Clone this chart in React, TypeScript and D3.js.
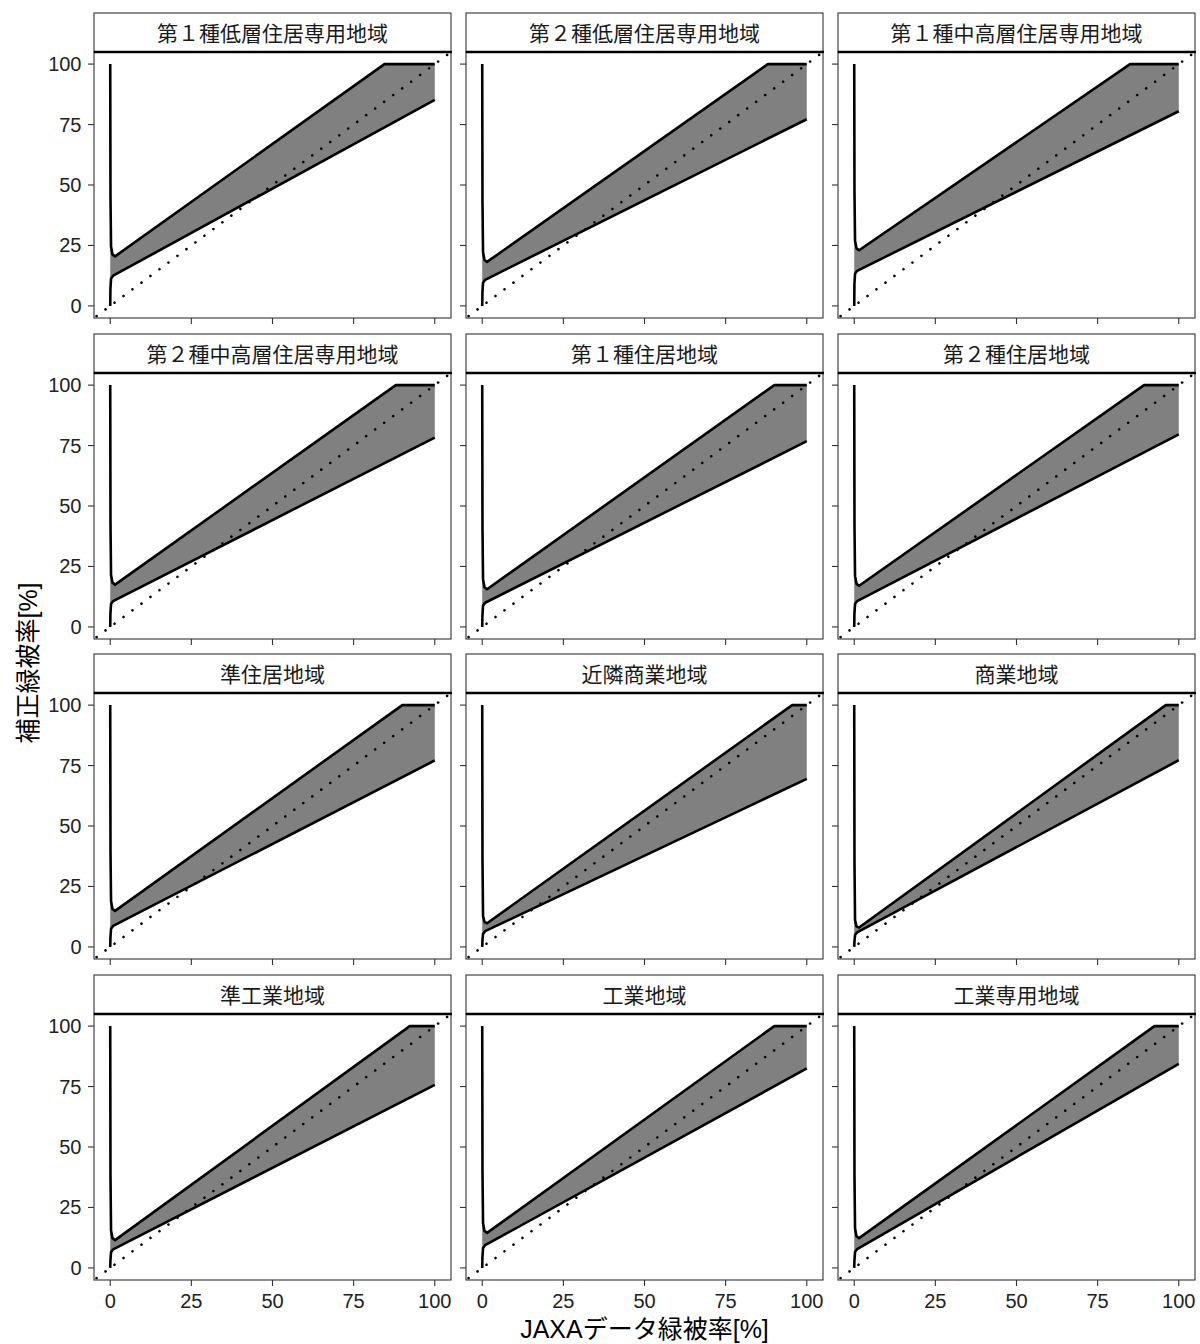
import React from 'react';
import * as d3 from 'd3';

// facet labels, in panel order (row by row)
const zoneNames = [
  '第１種低層住居専用地域',
  '第２種低層住居専用地域',
  '第１種中高層住居専用地域',
  '第２種中高層住居専用地域',
  '第１種住居地域',
  '第２種住居地域',
  '準住居地域',
  '近隣商業地域',
  '商業地域',
  '準工業地域',
  '工業地域',
  '工業専用地域',
];

// upper bound of the band, [JAXA %, corrected %]
const upperPts: number[][][] = [
  [[0, 100], [0.08, 45], [0.25, 24.5], [0.7, 21.3], [1.5, 20.5], [84.5, 100], [100, 100]],
  [[0, 100], [0.08, 43], [0.25, 22.2], [0.7, 19], [1.5, 18.2], [88, 100], [100, 100]],
  [[0, 100], [0.08, 47], [0.25, 27], [0.7, 23.8], [1.5, 23], [85, 100], [100, 100]],
  [[0, 100], [0.08, 43], [0.25, 21.5], [0.7, 18.3], [1.5, 17.5], [88, 100], [100, 100]],
  [[0, 100], [0.08, 41], [0.25, 19.6], [0.7, 16.4], [1.5, 15.6], [90, 100], [100, 100]],
  [[0, 100], [0.08, 42], [0.25, 21], [0.7, 17.8], [1.5, 17], [89.3, 100], [100, 100]],
  [[0, 100], [0.08, 40], [0.25, 18.9], [0.7, 15.7], [1.5, 14.9], [90, 100], [100, 100]],
  [[0, 100], [0.08, 36], [0.25, 12.8], [0.7, 10.3], [1.5, 9.8], [95.5, 100], [100, 100]],
  [[0, 100], [0.08, 35], [0.25, 11], [0.7, 8.5], [1.5, 8], [96, 100], [100, 100]],
  [[0, 100], [0.08, 38], [0.25, 15.5], [0.7, 12.3], [1.5, 11.5], [92.3, 100], [100, 100]],
  [[0, 100], [0.08, 40], [0.25, 18.5], [0.7, 15.3], [1.5, 14.5], [90, 100], [100, 100]],
  [[0, 100], [0.08, 38], [0.25, 16.3], [0.7, 13.1], [1.5, 12.3], [92.5, 100], [100, 100]],
];

// lower bound of the band
const lowerPts: number[][][] = [
  [[0, 0], [0.06, 7], [0.25, 11.3], [0.9, 12.5], [100, 85.2]],
  [[0, 0], [0.06, 5.5], [0.25, 9.6], [0.9, 10.8], [100, 77.2]],
  [[0, 0], [0.06, 9], [0.25, 13.3], [0.9, 14.5], [100, 80.5]],
  [[0, 0], [0.06, 5.4], [0.25, 9.5], [0.9, 10.7], [100, 78.3]],
  [[0, 0], [0.06, 4.8], [0.25, 8.8], [0.9, 10], [100, 76.8]],
  [[0, 0], [0.06, 5.4], [0.25, 9.5], [0.9, 10.7], [100, 79.6]],
  [[0, 0], [0.06, 3.6], [0.25, 7.5], [0.9, 8.7], [100, 77.1]],
  [[0, 0], [0.06, 2.4], [0.25, 5.4], [0.9, 6.5], [100, 69.5]],
  [[0, 0], [0.06, 2], [0.25, 4.9], [0.9, 6], [100, 77.2]],
  [[0, 0], [0.06, 2.9], [0.25, 6.5], [0.9, 7.7], [100, 75.7]],
  [[0, 0], [0.06, 4.3], [0.25, 8.2], [0.9, 9.4], [100, 82.5]],
  [[0, 0], [0.06, 2.9], [0.25, 6.6], [0.9, 7.8], [100, 84.4]],
];

const ticks = [0, 25, 50, 75, 100];
const identityLine = [[-10, -10], [110, 110]];

const xTitle = 'JAXAデータ緑被率[%]';
const yTitle = '補正緑被率[%]';

const W = 1200;
const H = 1344;
const colX = [94, 466, 838];
const rowTop = [52, 373, 693, 1014];
const panelW = 357;
const panelH = 266;
const stripH = 39;
const font = "'Liberation Sans', Arial, 'Noto Sans CJK JP', sans-serif";

const x = d3.scaleLinear().domain([-5, 105]).range([0, panelW]);
const y = d3.scaleLinear().domain([-5, 105]).range([panelH, 0]);

const line = d3.line<number[]>().x(d => x(d[0])).y(d => y(d[1]));

const App = () => {
  return (
    <svg width={W} height={H} style={{ position: 'absolute', left: 0, top: 0, background: '#fff' }} fontFamily={font}>
      <rect width={W} height={H} fill="#fff" />
      <defs>
        <clipPath id="panelClip">
          <rect x={0} y={0} width={panelW} height={panelH} />
        </clipPath>
      </defs>
      {zoneNames.map((name, i) => {
        const r = Math.floor(i / 3);
        const c = i % 3;
        const up = upperPts[i];
        const lo = lowerPts[i];
        const band = line([...up, ...lo.slice().reverse()]) + 'Z';
        return (
          <g key={name} transform={`translate(${colX[c]},${rowTop[r]})`}>
            {/* strip */}
            <rect x={0} y={-stripH} width={panelW} height={stripH} fill="#fff" stroke="#333" strokeWidth={1.1} />
            <text x={panelW / 2} y={-stripH / 2 + 0.5} textAnchor="middle" dominantBaseline="central"
              fontSize={21} fill="#1a1a1a">{name}</text>
            <rect x={0} y={0} width={panelW} height={panelH} fill="#fff" />
            <g clipPath="url(#panelClip)">
              <path d={band} fill="#808080" stroke="none" />
              <path d={line(up) || ''} fill="none" stroke="#000" strokeWidth={2.6} strokeLinejoin="round" />
              <path d={line(lo) || ''} fill="none" stroke="#000" strokeWidth={2.6} strokeLinejoin="round" />
              <path d={line(identityLine) || ''} fill="none" stroke="#000" strokeWidth={2.6}
                strokeLinecap="round" strokeDasharray="0.01 11.2" strokeDashoffset={-1} />
            </g>
            <rect x={0} y={0} width={panelW} height={panelH} fill="none" stroke="#333" strokeWidth={1.1} />
            <line x1={0} x2={panelW + 1} y1={0} y2={0} stroke="#000" strokeWidth={2.6} />
            {/* y axis ticks */}
            {ticks.map(t => (
              <line key={'yt' + t} x1={-6} x2={0} y1={y(t)} y2={y(t)} stroke="#333" strokeWidth={1.1} />
            ))}
            {c === 0 && ticks.map(t => (
              <text key={'yl' + t} x={-12.5} y={y(t)} textAnchor="end" dominantBaseline="central"
                fontSize={20} fill="#222">{t}</text>
            ))}
            {/* x axis ticks */}
            {ticks.map(t => (
              <line key={'xt' + t} x1={x(t)} x2={x(t)} y1={panelH} y2={panelH + 6} stroke="#333" strokeWidth={1.1} />
            ))}
            {r === 3 && ticks.map(t => (
              <text key={'xl' + t} x={x(t)} y={panelH + 28} textAnchor="middle"
                fontSize={20} fill="#222">{t}</text>
            ))}
          </g>
        );
      })}
      <text x={644.5} y={1338} textAnchor="middle" fontSize={25} fill="#000">{xTitle}</text>
      <text transform="translate(37,663) rotate(-90)" textAnchor="middle" fontSize={25} fill="#000">{yTitle}</text>
    </svg>
  );
};

export default App;
